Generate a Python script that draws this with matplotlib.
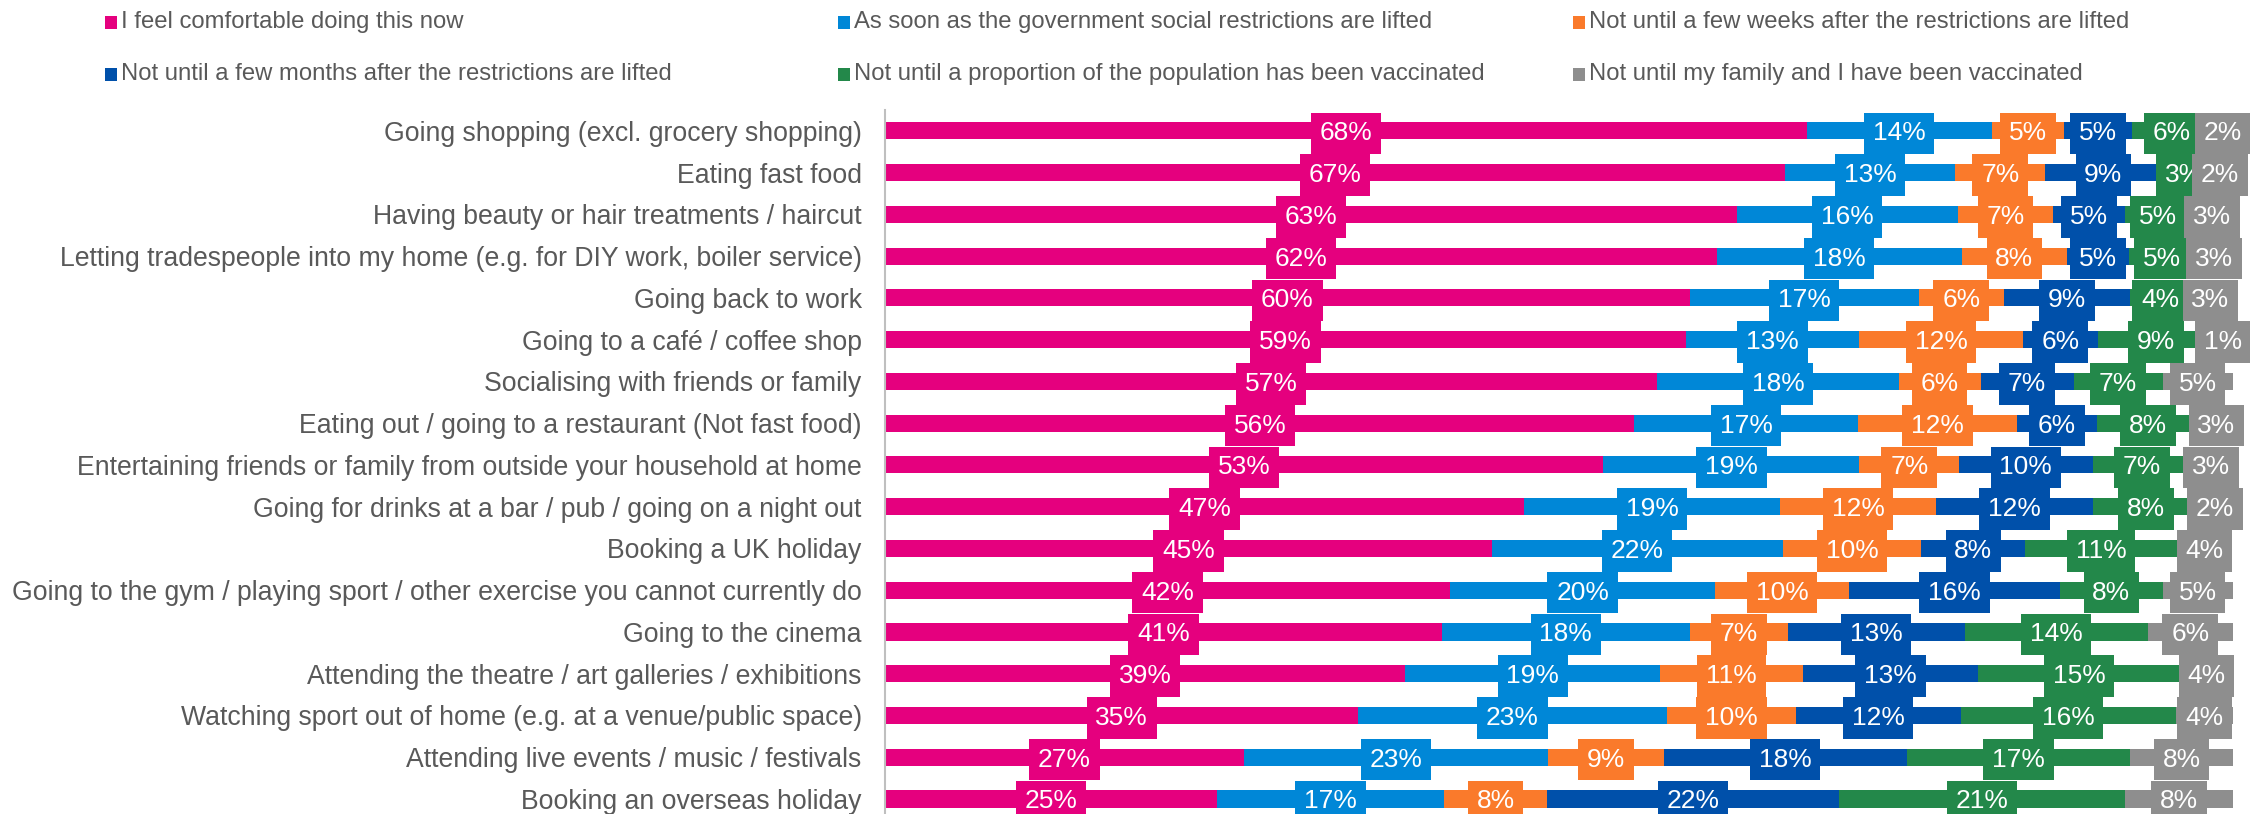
import matplotlib
matplotlib.use("Agg")
import matplotlib.pyplot as plt
from matplotlib.patches import Rectangle
import numpy as np

plt.rcParams["font.family"] = ["Liberation Sans", "DejaVu Sans"]

activities = [
    "Going shopping (excl. grocery shopping)",
    "Eating fast food",
    "Having beauty or hair treatments / haircut",
    "Letting tradespeople into my home (e.g. for DIY work, boiler service)",
    "Going back to work",
    "Going to a café / coffee shop",
    "Socialising with friends or family",
    "Eating out / going to a restaurant (Not fast food)",
    "Entertaining friends or family from outside your household at home",
    "Going for drinks at a bar / pub / going on a night out",
    "Booking a UK holiday",
    "Going to the gym / playing sport / other exercise you cannot currently do",
    "Going to the cinema",
    "Attending the theatre / art galleries / exhibitions",
    "Watching sport out of home (e.g. at a venue/public space)",
    "Attending live events / music / festivals",
    "Booking an overseas holiday",
]

series_names = [
    "I feel comfortable doing this now",
    "As soon as the government social restrictions are lifted",
    "Not until a few weeks after the restrictions are lifted",
    "Not until a few months after the restrictions are lifted",
    "Not until a proportion of the population has been vaccinated",
    "Not until my family and I have been vaccinated",
]

comfortable_now = [68.4, 66.8, 63.2, 61.7, 59.7, 59.4, 57.3, 55.6, 53.3, 47.4, 45.0, 41.9, 41.3, 38.6, 35.1, 26.6, 24.6]
when_lifted     = [13.7, 12.6, 16.4, 18.2, 17.0, 12.9, 17.9, 16.6, 19.0, 19.0, 21.6, 19.7, 18.4, 18.9, 22.9, 22.6, 16.9]
few_weeks       = [5.4, 6.7, 7.1, 7.8, 6.3, 12.1, 6.1, 11.8, 7.4, 11.6, 10.3, 9.9, 7.3, 10.6, 9.6, 8.6, 7.6]
few_months      = [5.0, 8.6, 5.3, 4.6, 9.4, 5.6, 6.9, 5.9, 9.9, 11.6, 7.7, 15.7, 13.1, 13.0, 12.2, 18.0, 21.7]
population_vacc = [5.9, 3.4, 4.9, 4.9, 4.4, 8.6, 6.6, 7.6, 7.3, 7.9, 11.3, 7.6, 13.6, 15.0, 16.0, 16.6, 21.2]
family_vacc     = [1.7, 1.9, 3.1, 2.8, 3.1, 1.3, 5.2, 2.6, 3.0, 2.4, 4.0, 5.2, 6.3, 3.9, 4.2, 7.6, 8.0]

series = [comfortable_now, when_lifted, few_weeks, few_months, population_vacc, family_vacc]
colors = ["#E5007E", "#0087D7", "#FA7A2B", "#0050AA", "#23884A", "#8E8E8E"]
TEXT = "#595959"

fig = plt.figure(figsize=(22.62, 8.14), dpi=100)
ax = fig.add_axes([885.3 / 2262, 0, (2232.7 - 885.3) / 2262, 704 / 814])

y = np.arange(len(activities))
left = np.zeros(len(activities))
for vals, col in zip(series, colors):
    vals = np.array(vals)
    ax.barh(y, vals, left=left, height=0.41, color=col, linewidth=0)
    # value label in a box of the segment colour, centred on the segment
    for yi, l, v in zip(y, left, vals):
        ax.text(l + v / 2, yi, f"{v:.0f}%", ha="center", va="center_baseline",
                fontsize=19, color="white",
                bbox=dict(boxstyle="square,pad=0.33", fc=col, ec="none"))
    left += vals

ax.set_xlim(0, 100)
ax.set_ylim(16.36, -0.5)
ax.set_yticks(y)
ax.set_yticklabels(activities, fontsize=19.2, color=TEXT)
ax.tick_params(axis="y", length=0, pad=17)
ax.set_xticks([])
for s in ["top", "right", "bottom"]:
    ax.spines[s].set_visible(False)
ax.spines["left"].set_color("#BFBFBF")
ax.spines["left"].set_linewidth(1.5)

# legend, laid out as two rows of three
leg_x = [105, 838, 1573]
leg_y = [22, 74]
for i, (name, col) in enumerate(zip(series_names, colors)):
    cx = leg_x[i % 3]
    cy = 814 - leg_y[i // 3]
    fig.add_artist(Rectangle((cx / 2262, (cy - 7) / 814), 12 / 2262, 13 / 814,
                             transform=fig.transFigure, fc=col, ec="none"))
    fig.text((cx + 16) / 2262, cy / 814, name, fontsize=17.2, color=TEXT,
             ha="left", va="center")

fig.savefig("out.png", dpi=100)
